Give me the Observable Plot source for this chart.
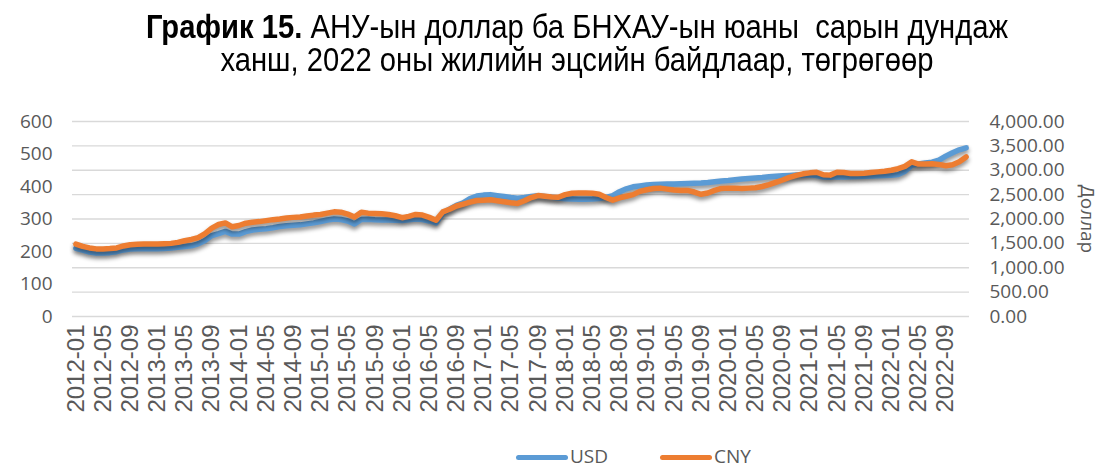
<!DOCTYPE html>
<html>
<head>
<meta charset="utf-8">
<script src="https://cdn.jsdelivr.net/npm/d3@7"></script>
<script src="https://cdn.jsdelivr.net/npm/@observablehq/plot@0.6"></script>
<style>
  html, body { margin: 0; padding: 0; background: #fff; }
  #wrap { position: relative; width: 1100px; height: 468px; overflow: hidden; font-family: "Open Sans", sans-serif; }
  #title { position: absolute; top: 10px; left: 27px; width: 1100px; text-align: center;
           font-family: "Liberation Sans", Arial, sans-serif;
           font-size: 33px; line-height: 33px; color: #000;
           transform: scaleX(0.885); transform-origin: 550px 0; }
  #title b { font-weight: bold; }
  #chart { position: absolute; top: 90px; left: 0; }
  .leg { position: absolute; top: 443px; height: 26px; font-size: 19px; color: #595959; line-height: 26px; }
  .sw { position: absolute; top: 12px; width: 52px; height: 5px; border-radius: 3px; }
</style>
</head>
<body>
<div id="wrap">
  <div id="title"><b>График 15.</b> АНУ-ын доллар ба БНХАУ-ын юаны&nbsp; сарын дундаж<br>ханш, 2022 оны жилийн эцсийн байдлаар, төгрөгөөр</div>
  <div id="chart"></div>
  <div class="leg" style="left:516px;"><span class="sw" style="left:0;background:#5b9bd5"></span><span style="position:absolute;left:54px;">USD</span></div>
  <div class="leg" style="left:660px;"><span class="sw" style="left:0;background:#ed7d31"></span><span style="position:absolute;left:54px;">CNY</span></div>
</div>
<script>
const years = [2012, 2013, 2014, 2015, 2016, 2017, 2018, 2019, 2020, 2021, 2022];
const monthNums = ["01","02","03","04","05","06","07","08","09","10","11","12"];
const months = years.flatMap(y => monthNums.map(m => `${y}-${m}`));

// USD/MNT monthly average (right axis)
const usd = [
  1400, 1360, 1320, 1300, 1305, 1310, 1330, 1365, 1385, 1388, 1390, 1392,
  1392, 1395, 1405, 1420, 1435, 1450, 1490, 1560, 1660, 1700, 1745, 1690,
  1690, 1740, 1775, 1790, 1800, 1820, 1845, 1860, 1870, 1880, 1900, 1920,
  1950, 1980, 2000, 1990, 1960, 1900, 1990, 1995, 1985, 1980, 1980, 1975,
  1970, 1985, 2000, 1990, 1960, 1920, 2120, 2200, 2280, 2330, 2420, 2470,
  2490, 2500, 2480, 2460, 2440, 2425, 2440, 2460, 2475, 2460, 2445, 2430,
  2415, 2410, 2405, 2405, 2410, 2420, 2445, 2480, 2560, 2620, 2660, 2680,
  2700, 2710, 2715, 2720, 2720, 2725, 2730, 2735, 2740, 2750, 2765, 2780,
  2790, 2805, 2820, 2830, 2840, 2850, 2865, 2875, 2885, 2895, 2905, 2910,
  2905, 2890, 2860, 2855, 2865, 2860, 2865, 2870, 2875, 2880, 2885, 2890,
  2895, 2910, 2980, 3100, 3130, 3150, 3165, 3210, 3290, 3360, 3420, 3460
];
// CNY/MNT monthly average (left axis)
const cny = [
  223, 216, 211, 208, 208, 209, 211, 217, 221, 222, 223, 223,
  223, 224, 225, 228, 233, 237, 243, 255, 272, 283, 288, 276,
  280, 287, 290, 292, 295, 298, 300, 303, 305, 306, 309, 312,
  314, 318, 322, 321, 315, 306, 321, 318, 317, 316, 314, 310,
  304, 308, 314, 312, 305, 296, 322, 330, 340, 346, 352, 357,
  358, 359, 356, 353, 350, 348, 356, 366, 372, 370, 368, 367,
  375, 379, 380, 380, 379, 376, 366, 358, 365, 370, 375, 385,
  390, 394, 395, 392, 389, 388, 388, 383, 376, 380, 388, 394,
  395, 395, 394, 395, 396, 400, 406, 413, 420, 428, 434, 439,
  442, 444, 436, 435, 444, 443, 440, 440, 441, 443, 445, 447,
  450, 455, 462, 476, 469, 469, 470, 468, 464, 467, 476, 491
];

const leftTicks = [0, 100, 200, 300, 400, 500, 600];
const rightTicks = [0, 500, 1000, 1500, 2000, 2500, 3000, 3500, 4000];
const xTickLabels = [
  "2012-01","2012-05","2012-09","2013-01","2013-05","2013-09","2014-01","2014-05","2014-09",
  "2015-01","2015-05","2015-09","2016-01","2016-05","2016-09","2017-01","2017-05","2017-09",
  "2018-01","2018-05","2018-09","2019-01","2019-05","2019-09","2020-01","2020-05","2020-09",
  "2021-01","2021-05","2021-09","2022-01","2022-05","2022-09"
];

const ratio = 4000 / 600;
const data = months.map((m, i) => ({month: m, usd: usd[i], cnyScaled: cny[i] * ratio}));

const chart = Plot.plot({
  width: 1100,
  height: 350,
  marginTop: 31,
  marginBottom: 124,
  marginLeft: 72,
  marginRight: 131,
  x: {type: "point", domain: months, padding: 0.5},
  y: {domain: [0, 4000]},
  style: {fontFamily: "'Open Sans', sans-serif", fontSize: "19px", color: "#595959", background: "transparent"},
  marks: [
    Plot.gridY(rightTicks, {stroke: "#d9d9d9", strokeOpacity: 1, strokeWidth: 1.4}),
    Plot.axisY(rightTicks, {anchor: "right", tickSize: 0, tickPadding: 20, tickFormat: d3.format(",.2f"), label: null, fontSize: 19}),
    Plot.axisY(leftTicks.map(v => v * ratio), {anchor: "left", tickSize: 0, tickPadding: 20, tickFormat: d => String(Math.round(d / ratio)), label: null, fontSize: 19}),
    Plot.axisX(xTickLabels, {tickSize: 0, tickRotate: -90, tickPadding: 8, fontSize: 24, fontFamily: "'Liberation Sans', Arial, sans-serif", label: null}),
    Plot.line(data, {x: "month", y: "usd", stroke: "#5b9bd5", strokeWidth: 5.5}),
    Plot.line(data, {x: "month", y: "cnyScaled", stroke: "#ed7d31", strokeWidth: 5.5}),
    Plot.text(["Доллар"], {frameAnchor: "right", textAnchor: "middle", rotate: 90, dx: 118, fontSize: 19, fill: "#595959"})
  ]
});
d3.select(chart).selectAll("g[aria-label='line'] path").style("filter", "drop-shadow(0px 3px 2px rgba(0,0,0,0.45))");
document.getElementById("chart").appendChild(chart);
</script>
</body>
</html>
